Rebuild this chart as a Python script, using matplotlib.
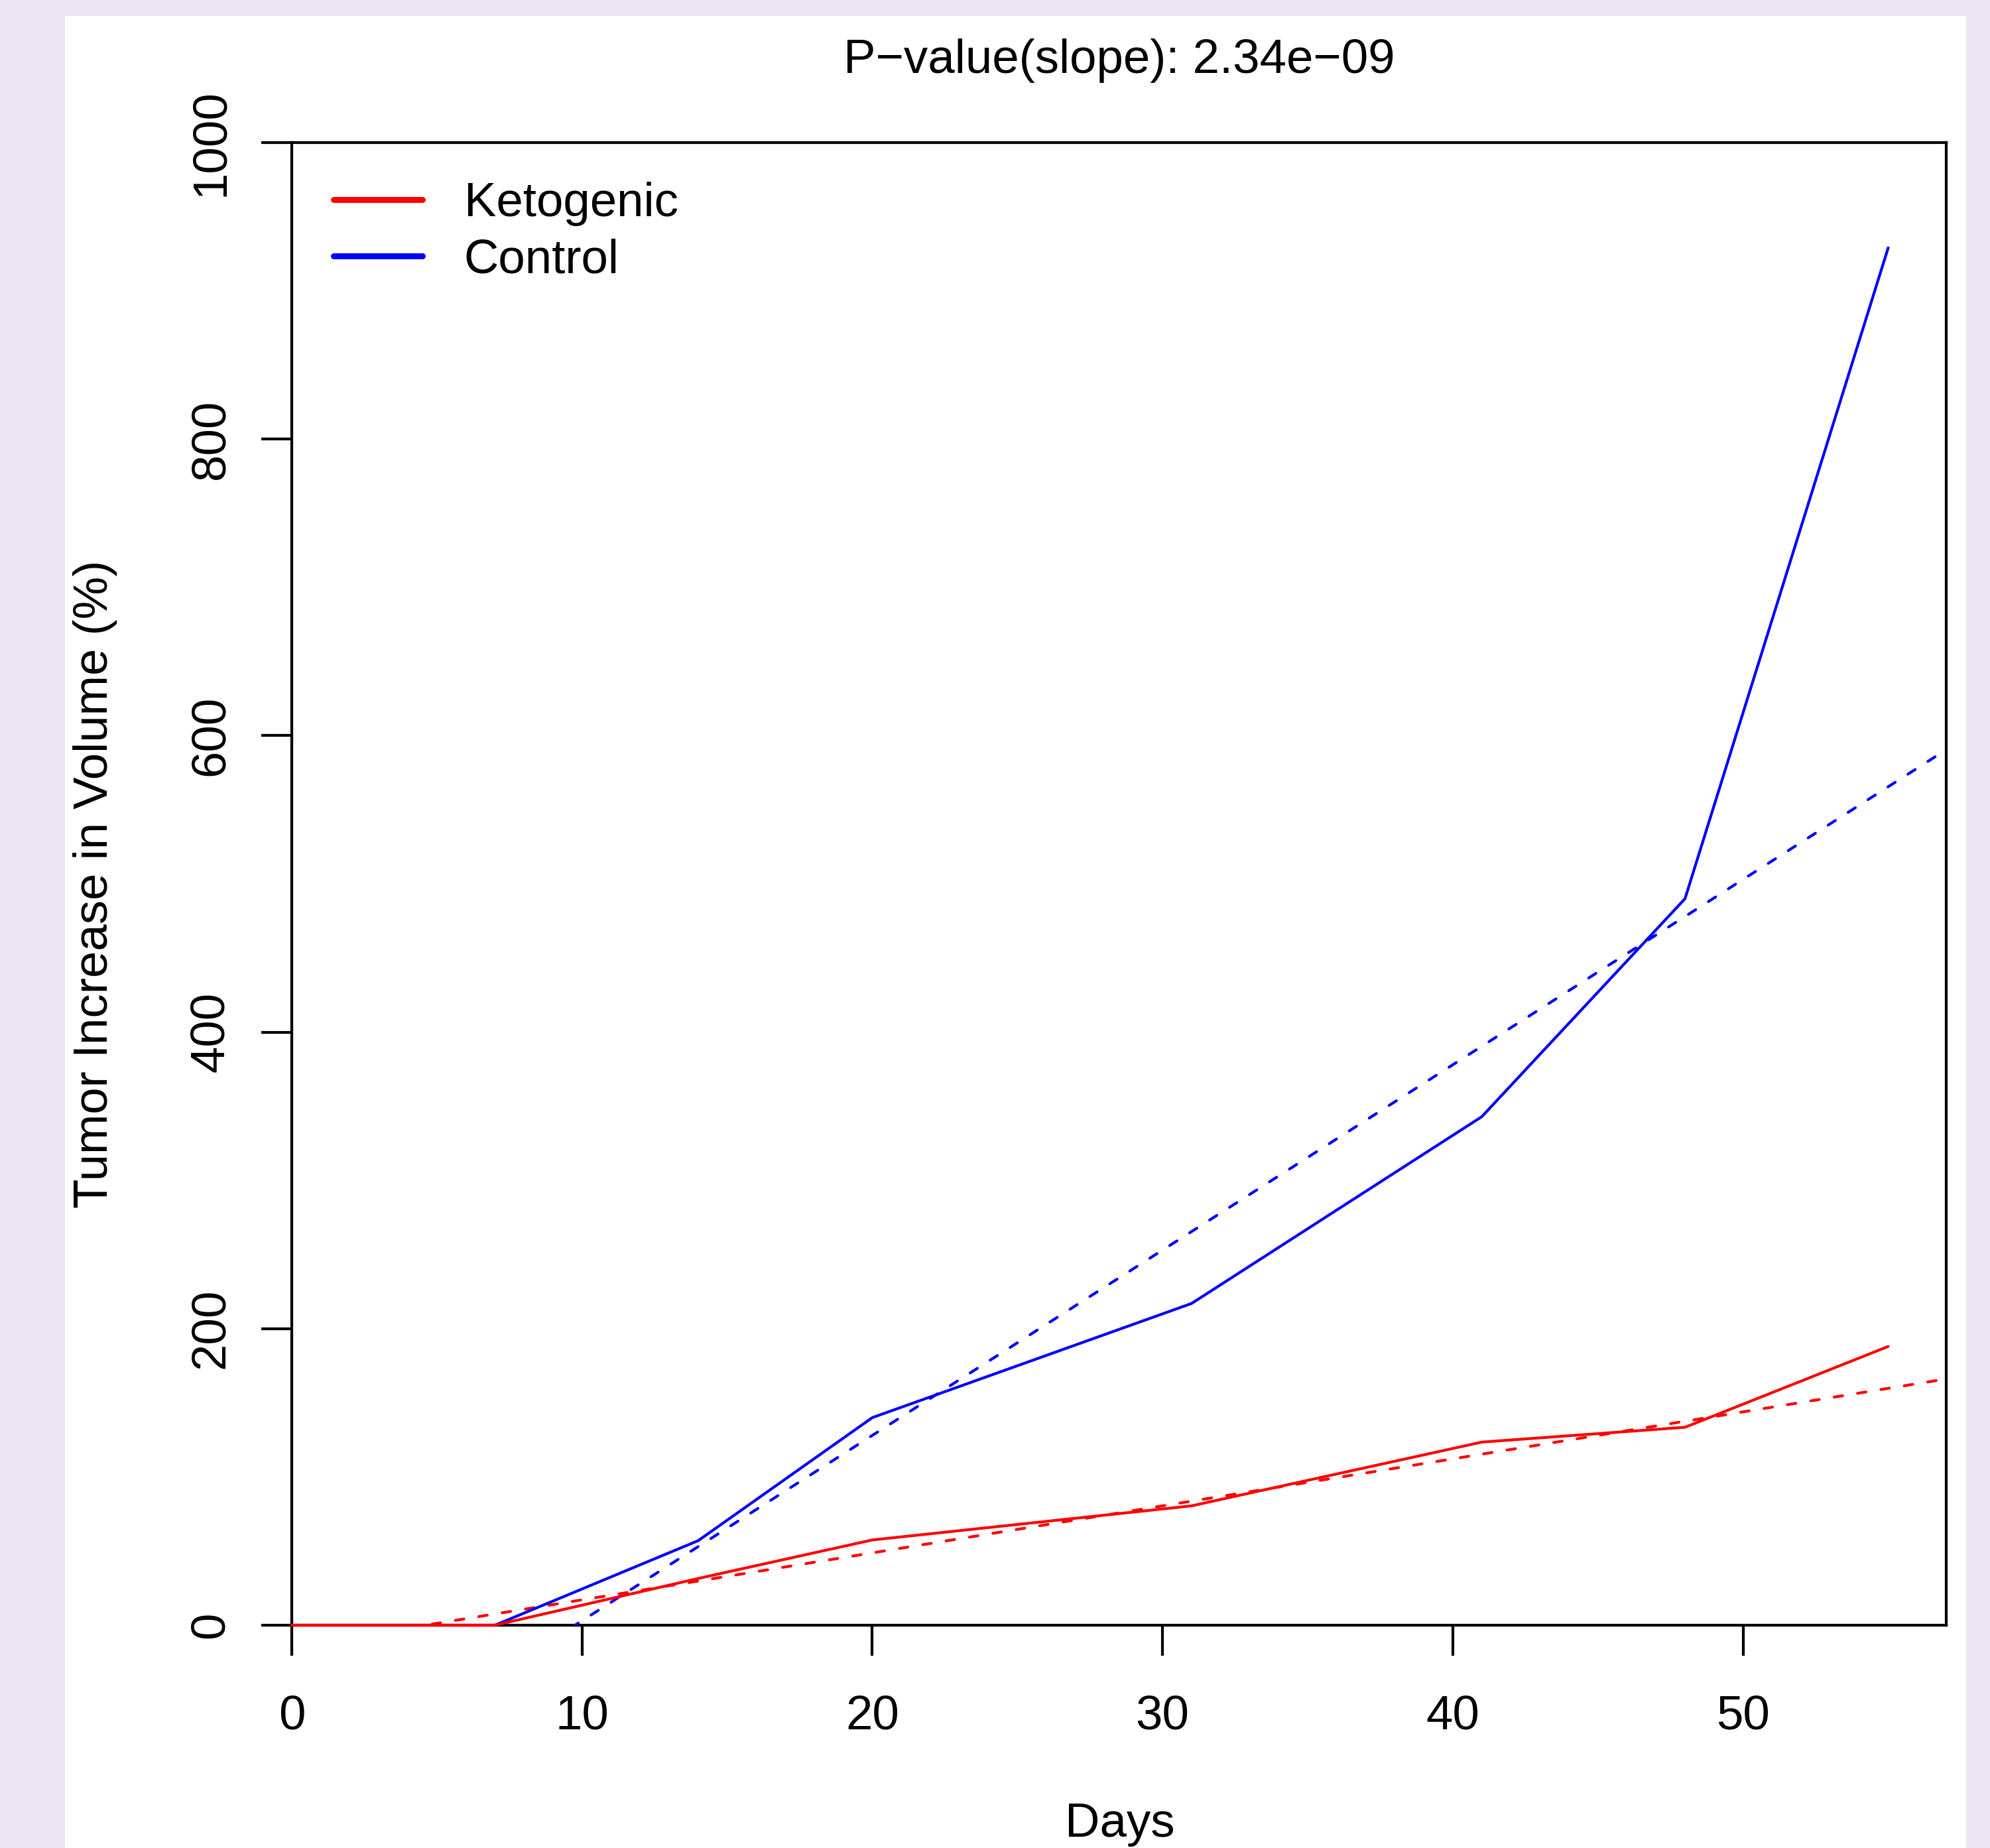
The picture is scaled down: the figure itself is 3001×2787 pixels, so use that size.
import matplotlib
matplotlib.use("Agg")
import matplotlib.pyplot as plt
from matplotlib.lines import Line2D
from matplotlib.patches import Rectangle
import numpy as np

# ---- data ----
days = [0, 7, 14, 20, 31, 41, 48, 55]
ketogenic = [0, 0, 31.5, 57.5, 80.5, 123.5, 133.5, 188]
control = [0, 0, 57, 140, 217, 343, 490, 929]
# fitted regression lines (intercept, slope)
keto_fit = [-14.6, 3.17]
control_fit = [-122.0, 12.5]
series_names = ["Ketogenic", "Control"]
series_colors = ["#ff0000", "#0000ff"]
xticks = [0, 10, 20, 30, 40, 50]
yticks = [0, 200, 400, 600, 800, 1000]
title = "P\u2212value(slope): 2.34e\u221209"

W, H = 3001, 2787
DPI = 100
PX = 72.0 / DPI  # points per pixel

plt.rcParams["font.family"] = ["Liberation Sans", "DejaVu Sans"]
FS = 72.6 * PX

fig = plt.figure(figsize=(W / DPI, H / DPI), dpi=DPI)
fig.patch.set_facecolor("#ebe6f3")
fig.patches.append(Rectangle((98 / W, 0), (2965 - 98) / W, 1 - 24 / H,
                             transform=fig.transFigure, facecolor="white",
                             edgecolor="none", zorder=-10))

ax = fig.add_axes([440 / W, (H - 2451) / H, (2935 - 440) / W, (2451 - 215) / H])
ax.set_zorder(1)
ax.set_facecolor("white")
ax.set_xlim(0, 57)
ax.set_ylim(0, 1000)

LW = 4.2 * PX
xs = np.array([0, 57])
for fit, col in [(keto_fit, series_colors[0]), (control_fit, series_colors[1])]:
    ax.plot(xs, fit[0] + fit[1] * xs, color=col, lw=LW, dashes=(3.1, 5.4),
            dash_capstyle="round", zorder=3)

ax.plot(days, control, color=series_colors[1], lw=LW, solid_capstyle="round",
        solid_joinstyle="round", clip_on=False, zorder=4)
ax.plot(days, ketogenic, color=series_colors[0], lw=LW, solid_capstyle="round",
        solid_joinstyle="round", clip_on=False, zorder=4)

for s in ax.spines.values():
    s.set_linewidth(LW)
    s.set_zorder(2)

ax.set_xticks(xticks)
ax.set_yticks(yticks)
ax.set_xticklabels([str(v) for v in xticks])
ax.set_yticklabels([str(v) for v in yticks])
ax.tick_params(axis="both", length=46 * PX, width=LW, labelsize=FS)
ax.tick_params(axis="x", pad=111 * PX)
ax.tick_params(axis="y", pad=57 * PX)
for lab in ax.get_xticklabels():
    lab.set_va("baseline")
for lab in ax.get_yticklabels():
    lab.set_rotation(90)
    lab.set_rotation_mode("anchor")
    lab.set_ha("center")
    lab.set_va("baseline")

handles = [Line2D([], [], color=c, lw=9 * PX, solid_capstyle="round") for c in series_colors]
ax.legend(handles, series_names, loc="upper left", bbox_to_anchor=(503 / W, 1 - 274 / H),
          bbox_transform=fig.transFigure, frameon=False, fontsize=FS,
          handlelength=1.85, handletextpad=0.86, labelspacing=0.25,
          borderpad=0, borderaxespad=0)

fig.text(1688 / W, 1 - 110 / H, title, ha="center", va="baseline", fontsize=FS)
fig.text(1689 / W, 1 - 2770 / H, "Days", ha="center", va="baseline", fontsize=FS)
fig.text(162 / W, 1 - 1333 / H, "Tumor Increase in Volume (%)", ha="center",
         va="baseline", rotation=90, rotation_mode="anchor", fontsize=FS)

fig.savefig("out.png", dpi=DPI, facecolor=fig.get_facecolor())
